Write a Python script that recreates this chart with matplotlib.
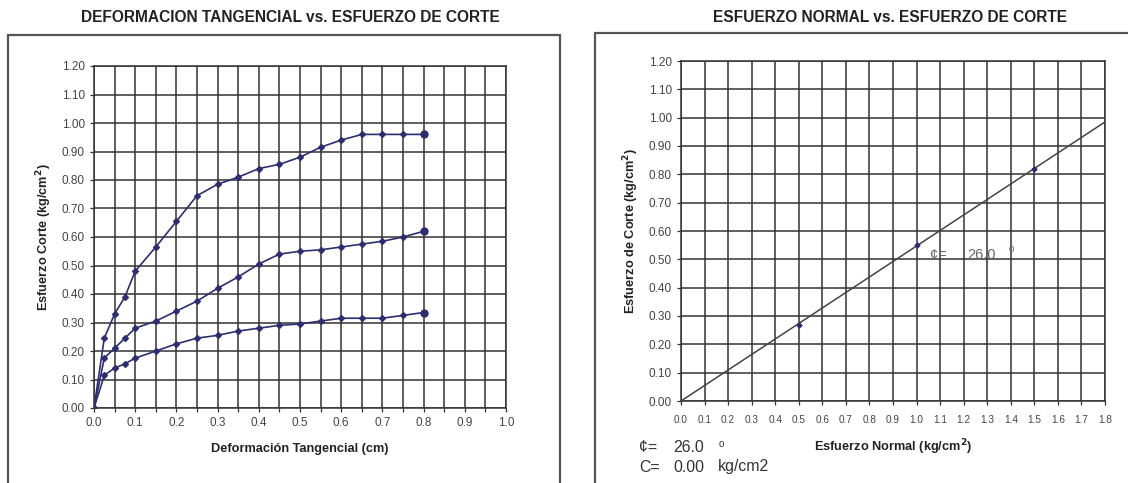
import numpy as np
import matplotlib.pyplot as plt
from matplotlib.patches import Rectangle

plt.rcParams['font.family'] = ['Liberation Sans', 'DejaVu Sans']

# Deformacion tangencial (cm) y esfuerzo de corte (kg/cm2) por especimen
deformacion = [0, 0.025, 0.05, 0.075, 0.1, 0.15, 0.2, 0.25, 0.3, 0.35,
               0.4, 0.45, 0.5, 0.55, 0.6, 0.65, 0.7, 0.75, 0.8]
corte_1 = [0, 0.245, 0.33, 0.39, 0.48, 0.565, 0.655, 0.745, 0.785, 0.81,
           0.84, 0.855, 0.88, 0.915, 0.94, 0.96, 0.96, 0.96, 0.96]
corte_2 = [0, 0.175, 0.21, 0.245, 0.28, 0.305, 0.34, 0.375, 0.42, 0.46,
           0.505, 0.54, 0.55, 0.555, 0.565, 0.575, 0.585, 0.60, 0.62]
corte_3 = [0, 0.115, 0.14, 0.155, 0.175, 0.20, 0.225, 0.245, 0.255, 0.27,
           0.28, 0.29, 0.295, 0.305, 0.315, 0.315, 0.315, 0.325, 0.335]

# Esfuerzo normal vs esfuerzo de corte maximo
normal = [0.5, 1.0, 1.5]
corte_max = [0.27, 0.55, 0.82]
phi = 26.0
cohesion = 0.00

navy = '#2e2e6e'
gridc = '#333333'
tickc = '#444444'

fig = plt.figure(figsize=[11.28, 4.83], dpi=100)

# Marcos de cada grafico
fig.patches.append(Rectangle((8/1128, -0.01), 552/1128, (483-35)/483 + 0.01,
                             transform=fig.transFigure, fill=False,
                             ec='#555555', lw=1.6))
fig.patches.append(Rectangle((595/1128, -0.01), 0.5, (483-33)/483 + 0.01,
                             transform=fig.transFigure, fill=False,
                             ec='#555555', lw=1.6))

fig.text(290/1128, 1 - 17/483, 'DEFORMACION TANGENCIAL vs. ESFUERZO DE CORTE',
         ha='center', va='center', fontsize=11.2, fontweight='bold', color='#222222')
fig.text(890/1128, 1 - 17/483, 'ESFUERZO NORMAL vs. ESFUERZO DE CORTE',
         ha='center', va='center', fontsize=11.2, fontweight='bold', color='#222222')

# Grafico izquierdo
ax1 = fig.add_axes([94/1128, 75/483, 412/1128, 342/483])
ax1.set_xlim(0, 1.0)
ax1.set_ylim(0, 1.2)
ax1.set_xticks(np.arange(0, 1.01, 0.1))
ax1.set_xticks(np.arange(0, 1.01, 0.05), minor=True)
ax1.set_yticks(np.arange(0, 1.21, 0.1))
ax1.set_xticklabels(['%.1f' % v for v in np.arange(0, 1.01, 0.1)])
ax1.set_yticklabels(['%.2f' % v for v in np.arange(0, 1.21, 0.1)])
ax1.grid(which='both', color=gridc, lw=1.1)
ax1.set_axisbelow(True)
for s in [corte_1, corte_2, corte_3]:
    ax1.plot(deformacion, s, '-D', color=navy, lw=1.2, ms=3, zorder=3)
    ax1.plot(deformacion[-1], s[-1], 'o', color=navy, ms=5, zorder=4)
ax1.set_xlabel('Deformación Tangencial (cm)', fontsize=9.2, fontweight='bold',
               color='#222222', labelpad=10)
ax1.set_ylabel('Esfuerzo Corte (kg/cm$^\\mathbf{2}$)', fontsize=9.2,
               fontweight='bold', color='#222222', labelpad=6)

# Grafico derecho
ax2 = fig.add_axes([681/1128, 82/483, 424/1128, 340/483])
ax2.set_xlim(0, 1.8)
ax2.set_ylim(0, 1.2)
ax2.set_xticks(np.arange(0, 1.81, 0.1))
ax2.set_yticks(np.arange(0, 1.21, 0.1))
ax2.set_xticklabels(['%.1f' % v for v in np.arange(0, 1.81, 0.1)])
ax2.set_yticklabels(['%.2f' % v for v in np.arange(0, 1.21, 0.1)])
ax2.grid(color=gridc, lw=1.1)
ax2.set_axisbelow(True)
pend = np.dot(normal, corte_max) / np.dot(normal, normal)
xs = np.array([0, 1.8])
ax2.plot(xs, pend * xs, color='#444444', lw=1.1, zorder=3)
ax2.plot(normal, corte_max, 'D', color=navy, ms=2.5, zorder=4)
ax2.text(1.057, 0.515, '¢=', fontsize=10.5, color='#666666', va='center')
ax2.text(1.214, 0.515, '%.1f' % phi, fontsize=10.5, color='#666666', va='center')
ax2.text(1.392, 0.535, 'o', fontsize=7, color='#666666', va='center')
ax2.set_xlabel('Esfuerzo Normal (kg/cm$^\\mathbf{2}$)', fontsize=9.2,
               fontweight='bold', color='#222222', labelpad=9)
ax2.set_ylabel('Esfuerzo de Corte (kg/cm$^\\mathbf{2}$)', fontsize=9.2,
               fontweight='bold', color='#222222', labelpad=6)

for ax in [ax1, ax2]:
    for sp in ax.spines.values():
        sp.set_color(gridc)
        sp.set_linewidth(1.1)
    ax.tick_params(which='both', length=3, width=0.9, color=gridc,
                   labelcolor=tickc, labelsize=8.5)
ax2.tick_params(axis='x', labelsize=7.2, pad=7)

# Resultados
fig.text(639/1128, 1 - 448/483, '¢=', fontsize=11.4, color='#333333', va='center')
fig.text(673/1128, 1 - 448/483, '%.1f' % phi, fontsize=11.4, color='#333333',
         va='center')
fig.text(719/1128, 1 - 444/483, 'o', fontsize=7, color='#333333', va='center')
fig.text(639/1128, 1 - 467/483, 'C=', fontsize=11.4, color='#333333', va='center')
fig.text(673/1128, 1 - 467/483, '%.2f' % cohesion, fontsize=11.4, color='#333333',
         va='center')
fig.text(718/1128, 1 - 467/483, 'kg/cm2', fontsize=11.4, color='#333333',
         va='center')

plt.savefig('out.png', dpi=100)
